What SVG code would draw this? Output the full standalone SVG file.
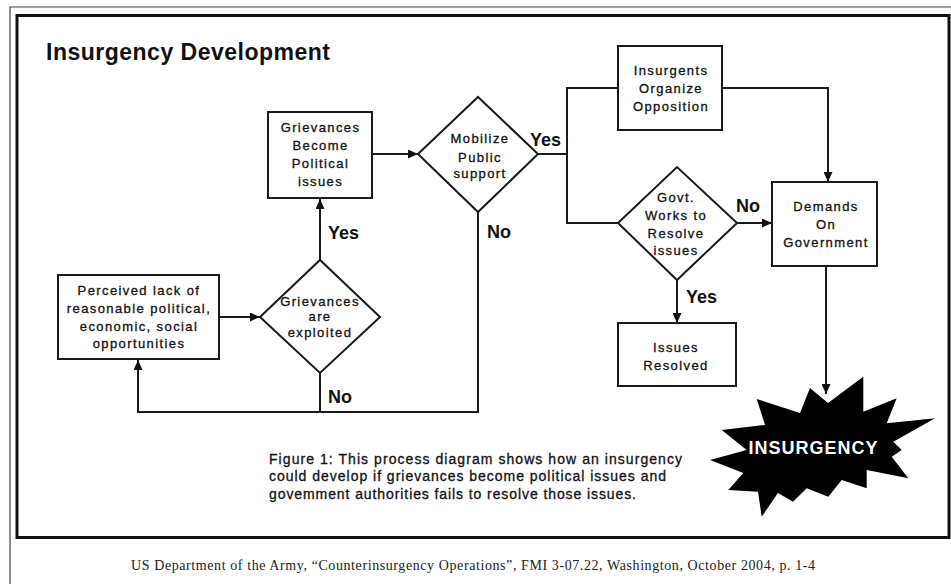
<svg xmlns="http://www.w3.org/2000/svg" width="951" height="584" viewBox="0 0 951 584">
<defs>
<marker id="arr" markerUnits="userSpaceOnUse" markerWidth="11" markerHeight="9" refX="10" refY="4.5" orient="auto">
<path d="M0,0 L10,4.5 L0,9 z" fill="#111"/>
</marker>
<style>
.box{fill:#fff;stroke:#1a1a1a;stroke-width:2}
.lbl{font-family:"Liberation Sans",Arial,sans-serif;font-size:13px;letter-spacing:1.4px;fill:#111;stroke:#111;stroke-width:0.3;text-anchor:middle}
.yn{font-family:"Liberation Sans",Arial,sans-serif;font-size:18px;font-weight:bold;fill:#111}
.con{fill:none;stroke:#1a1a1a;stroke-width:2}
.cap{font-family:"Liberation Sans",Arial,sans-serif;font-size:14px;fill:#111;stroke:#111;stroke-width:0.3}
</style>
</defs>
<rect width="951" height="584" fill="#fff"/>
<path d="M10,584 L10,7 L951,7" fill="none" stroke="#444" stroke-width="1.2"/>
<rect x="17" y="15.5" width="932" height="522" fill="none" stroke="#111" stroke-width="3"/>
<text x="46" y="60" font-family="Liberation Sans,Arial,sans-serif" font-size="23" font-weight="bold" letter-spacing="0.5" fill="#111">Insurgency Development</text>

<g id="connectors">
<line class="con" x1="219" y1="317" x2="260" y2="317" marker-end="url(#arr)"/>
<line class="con" x1="320" y1="260" x2="320" y2="199" marker-end="url(#arr)"/>
<line class="con" x1="372" y1="154" x2="418" y2="154" marker-end="url(#arr)"/>
<path class="con" d="M538,154 L567,154 M618,88 L567,88 L567,223 L618,223"/>
<path class="con" d="M722,88 L828,88 L828,182" marker-end="url(#arr)"/>
<line class="con" x1="737" y1="223" x2="772" y2="223" marker-end="url(#arr)"/>
<line class="con" x1="677" y1="280" x2="677" y2="323" marker-end="url(#arr)"/>
<line class="con" x1="826" y1="266" x2="826" y2="394" marker-end="url(#arr)"/>
<path class="con" d="M320,373 L320,412 M478,212 L478,412 L138,412 L138,360" marker-end="url(#arr)"/>
<text class="yn" x="328" y="239">Yes</text>
<text class="yn" x="328" y="403">No</text>
<text class="yn" x="530" y="146">Yes</text>
<text class="yn" x="487" y="238">No</text>
<text class="yn" x="736" y="212">No</text>
<text class="yn" x="686" y="303">Yes</text>
</g>

<g id="perceived">
<rect class="box" x="58" y="275" width="161" height="84"/>
<text class="lbl" x="139" y="295">Perceived lack of</text>
<text class="lbl" x="139" y="313">reasonable political,</text>
<text class="lbl" x="139" y="331">economic, social</text>
<text class="lbl" x="139" y="348">opportunities</text>
</g>

<g id="exploited">
<polygon class="box" points="260,317 320,260 380,317 320,373"/>
<text class="lbl" x="320" y="305.5">Grievances</text>
<text class="lbl" x="320" y="320.5">are</text>
<text class="lbl" x="320" y="336.5">exploited</text>
</g>

<g id="political">
<rect class="box" x="268" y="112" width="104" height="86"/>
<text class="lbl" x="320.5" y="131.5">Grievances</text>
<text class="lbl" x="320.5" y="150">Become</text>
<text class="lbl" x="320.5" y="168">Political</text>
<text class="lbl" x="320.5" y="186">issues</text>
</g>

<g id="mobilize">
<polygon class="box" points="418,154 478,97 538,154 478,212"/>
<text class="lbl" x="480" y="143">Mobilize</text>
<text class="lbl" x="480" y="161.5">Public</text>
<text class="lbl" x="480" y="178">support</text>
</g>

<g id="organize">
<rect class="box" x="618" y="46" width="104" height="84"/>
<text class="lbl" x="671" y="75">Insurgents</text>
<text class="lbl" x="671" y="93">Organize</text>
<text class="lbl" x="671" y="111">Opposition</text>
</g>

<g id="govt">
<polygon class="box" points="618,223 677,167 737,223 677,280"/>
<text class="lbl" x="676" y="202">Govt.</text>
<text class="lbl" x="676" y="220">Works to</text>
<text class="lbl" x="676" y="237.5">Resolve</text>
<text class="lbl" x="676" y="255">issues</text>
</g>

<g id="demands">
<rect class="box" x="772" y="182" width="105" height="84"/>
<text class="lbl" x="826" y="211">Demands</text>
<text class="lbl" x="826" y="228.5">On</text>
<text class="lbl" x="826" y="246.5">Government</text>
</g>

<g id="resolved">
<rect class="box" x="618" y="323" width="118" height="63"/>
<text class="lbl" x="676" y="352">Issues</text>
<text class="lbl" x="676" y="370">Resolved</text>
</g>

<g id="insurgency">
<polygon fill="#000" points="756.7,399 800,413 810,388 828,403 863.3,376.7 863.3,411.7 896.7,398.3 886.7,423.3 935,418.3 893.3,441.7 901.7,450 891.7,456.7 908.3,478.3 866.7,470 866.7,488.3 841.7,480 828.3,496.7 806.7,488.3 793,501.7 778,493 761.7,516.7 758,491.7 728.3,490 743.3,473 710,460 746.7,450 721.7,430 765,425"/>
<text x="813.5" y="454" font-family="Liberation Sans,Arial,sans-serif" font-size="18" font-weight="bold" letter-spacing="1" fill="#fff" text-anchor="middle">INSURGENCY</text>
</g>

<g id="caption">
<text class="cap" x="269" y="463.5" textLength="413" lengthAdjust="spacing">Figure 1: This process diagram shows how an insurgency</text>
<text class="cap" x="269" y="481" textLength="397" lengthAdjust="spacing">could develop if grievances become political issues and</text>
<text class="cap" x="269" y="498.5" textLength="367" lengthAdjust="spacing">govemment authorities fails to resolve those issues.</text>
</g>

<text x="131" y="570" font-family="Liberation Serif,Times New Roman,serif" font-size="14" fill="#222" textLength="684" lengthAdjust="spacing">US Department of the Army, “Counterinsurgency Operations”, FMI 3-07.22, Washington, October 2004, p. 1-4</text>
</svg>
